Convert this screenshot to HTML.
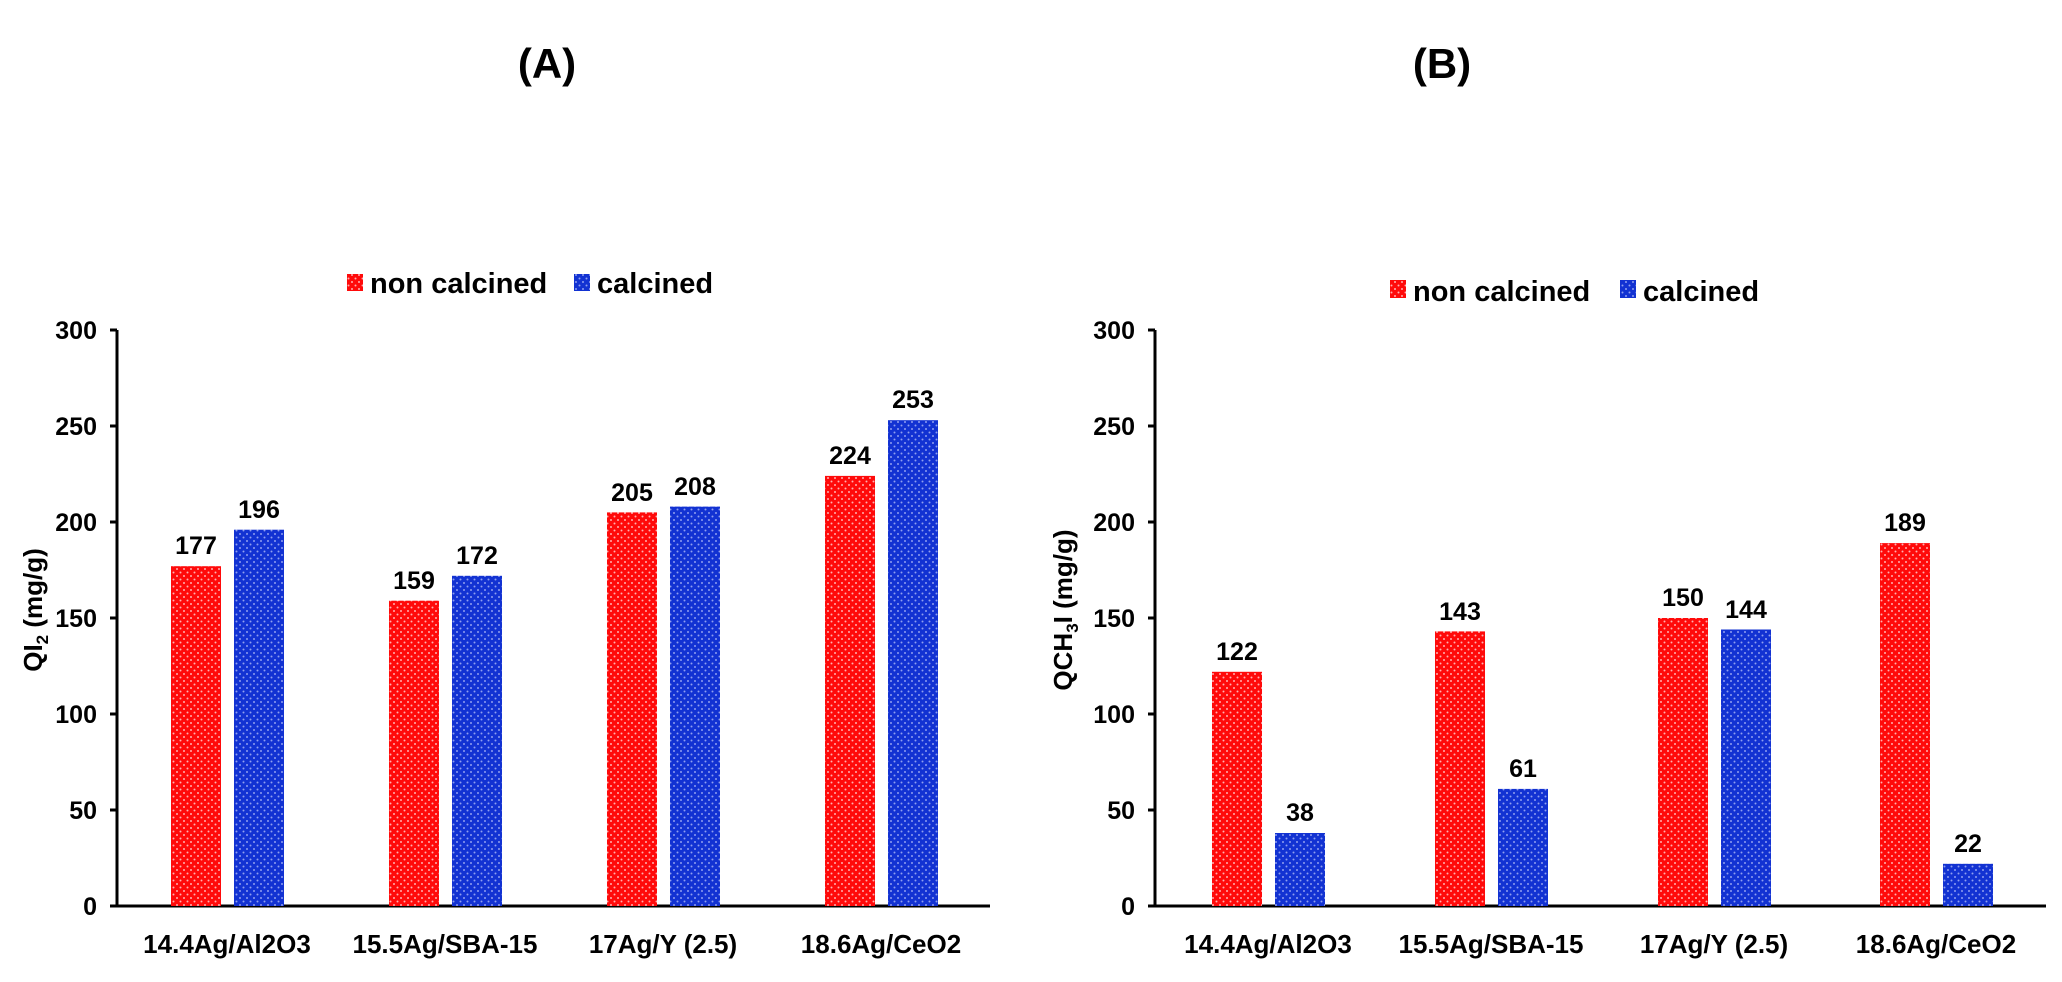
<!DOCTYPE html>
<html><head><meta charset="utf-8"><style>
html,body{margin:0;padding:0;background:#fff;}
svg{display:block;font-family:"Liberation Sans",Arial,sans-serif;font-weight:bold;}
</style></head><body>
<svg width="2062" height="982" viewBox="0 0 2062 982" xmlns="http://www.w3.org/2000/svg">
<defs>
<pattern id="pr" width="7" height="7" patternUnits="userSpaceOnUse"><rect width="7" height="7" fill="#ff0a0a"/><circle cx="2" cy="2" r="1" fill="#ffb0b0"/><circle cx="5.5" cy="5.5" r="1" fill="#ffb0b0"/></pattern>
<pattern id="pb" width="7" height="7" patternUnits="userSpaceOnUse"><rect width="7" height="7" fill="#1232d2"/><circle cx="2" cy="2" r="1" fill="#8f9ff0"/><circle cx="5.5" cy="5.5" r="1" fill="#8f9ff0"/></pattern>
</defs>
<text x="547" y="78" font-size="42" text-anchor="middle">(A)</text>
<text x="1442" y="78" font-size="42" text-anchor="middle">(B)</text>

<!-- Left chart -->
<rect x="347" y="274" width="16" height="17" fill="url(#pr)"/>
<text x="370" y="293" font-size="29">non calcined</text>
<rect x="574" y="274" width="16" height="17" fill="url(#pb)"/>
<text x="597" y="293" font-size="29">calcined</text>

<g font-size="25" text-anchor="end">
<text x="97" y="339">300</text><text x="97" y="435">250</text><text x="97" y="531">200</text>
<text x="97" y="627">150</text><text x="97" y="723">100</text><text x="97" y="819">50</text><text x="97" y="915">0</text>
</g>
<g stroke="#000" stroke-width="3">
<line x1="117" y1="330" x2="117" y2="907"/>
<line x1="110" y1="330" x2="117" y2="330"/><line x1="110" y1="426" x2="117" y2="426"/><line x1="110" y1="522" x2="117" y2="522"/>
<line x1="110" y1="618" x2="117" y2="618"/><line x1="110" y1="714" x2="117" y2="714"/><line x1="110" y1="810" x2="117" y2="810"/>
<line x1="110" y1="906" x2="990" y2="906"/>
</g>
<text transform="translate(42,610) rotate(-90)" font-size="26" text-anchor="middle">QI<tspan font-size="17" dy="6">2</tspan><tspan dy="-6"> (mg/g)</tspan></text>

<rect x="171" y="566.2" width="50" height="339.8" fill="url(#pr)"/>
<rect x="234" y="529.7" width="50" height="376.3" fill="url(#pb)"/>
<rect x="389" y="600.7" width="50" height="305.3" fill="url(#pr)"/>
<rect x="452" y="575.8" width="50" height="330.2" fill="url(#pb)"/>
<rect x="607" y="512.4" width="50" height="393.6" fill="url(#pr)"/>
<rect x="670" y="506.6" width="50" height="399.4" fill="url(#pb)"/>
<rect x="825" y="475.9" width="50" height="430.1" fill="url(#pr)"/>
<rect x="888" y="420.2" width="50" height="485.8" fill="url(#pb)"/>
<g font-size="25" text-anchor="middle">
<text x="196" y="554">177</text><text x="259" y="518">196</text>
<text x="414" y="589">159</text><text x="477" y="564">172</text>
<text x="632" y="501">205</text><text x="695" y="495">208</text>
<text x="850" y="464">224</text><text x="913" y="408">253</text>
</g>
<g font-size="26" text-anchor="middle">
<text x="227" y="953">14.4Ag/Al2O3</text><text x="445" y="953">15.5Ag/SBA-15</text>
<text x="663" y="953">17Ag/Y (2.5)</text><text x="881" y="953">18.6Ag/CeO2</text>
</g>

<!-- Right chart -->
<rect x="1390" y="280" width="16" height="18" fill="url(#pr)"/>
<text x="1413" y="301" font-size="29">non calcined</text>
<rect x="1620" y="280" width="16" height="18" fill="url(#pb)"/>
<text x="1643" y="301" font-size="29">calcined</text>

<g font-size="25" text-anchor="end">
<text x="1135" y="339">300</text><text x="1135" y="435">250</text><text x="1135" y="531">200</text>
<text x="1135" y="627">150</text><text x="1135" y="723">100</text><text x="1135" y="819">50</text><text x="1135" y="915">0</text>
</g>
<g stroke="#000" stroke-width="3">
<line x1="1155" y1="330" x2="1155" y2="907"/>
<line x1="1148" y1="330" x2="1155" y2="330"/><line x1="1148" y1="426" x2="1155" y2="426"/><line x1="1148" y1="522" x2="1155" y2="522"/>
<line x1="1148" y1="618" x2="1155" y2="618"/><line x1="1148" y1="714" x2="1155" y2="714"/><line x1="1148" y1="810" x2="1155" y2="810"/>
<line x1="1148" y1="906" x2="2046" y2="906"/>
</g>
<text transform="translate(1072,610) rotate(-90)" font-size="26" text-anchor="middle">QCH<tspan font-size="17" dy="6">3</tspan><tspan dy="-6">I  (mg/g)</tspan></text>

<rect x="1212" y="671.8" width="50" height="234.2" fill="url(#pr)"/>
<rect x="1275" y="833.0" width="50" height="73.0" fill="url(#pb)"/>
<rect x="1435" y="631.4" width="50" height="274.6" fill="url(#pr)"/>
<rect x="1498" y="788.9" width="50" height="117.1" fill="url(#pb)"/>
<rect x="1658" y="618.0" width="50" height="288.0" fill="url(#pr)"/>
<rect x="1721" y="629.5" width="50" height="276.5" fill="url(#pb)"/>
<rect x="1880" y="543.1" width="50" height="362.9" fill="url(#pr)"/>
<rect x="1943" y="863.8" width="50" height="42.2" fill="url(#pb)"/>
<g font-size="25" text-anchor="middle">
<text x="1237" y="660">122</text><text x="1300" y="821">38</text>
<text x="1460" y="620">143</text><text x="1523" y="777">61</text>
<text x="1683" y="606">150</text><text x="1746" y="618">144</text>
<text x="1905" y="531">189</text><text x="1968" y="852">22</text>
</g>
<g font-size="26" text-anchor="middle">
<text x="1268" y="953">14.4Ag/Al2O3</text><text x="1491" y="953">15.5Ag/SBA-15</text>
<text x="1714" y="953">17Ag/Y (2.5)</text><text x="1936" y="953">18.6Ag/CeO2</text>
</g>
</svg>
</body></html>
